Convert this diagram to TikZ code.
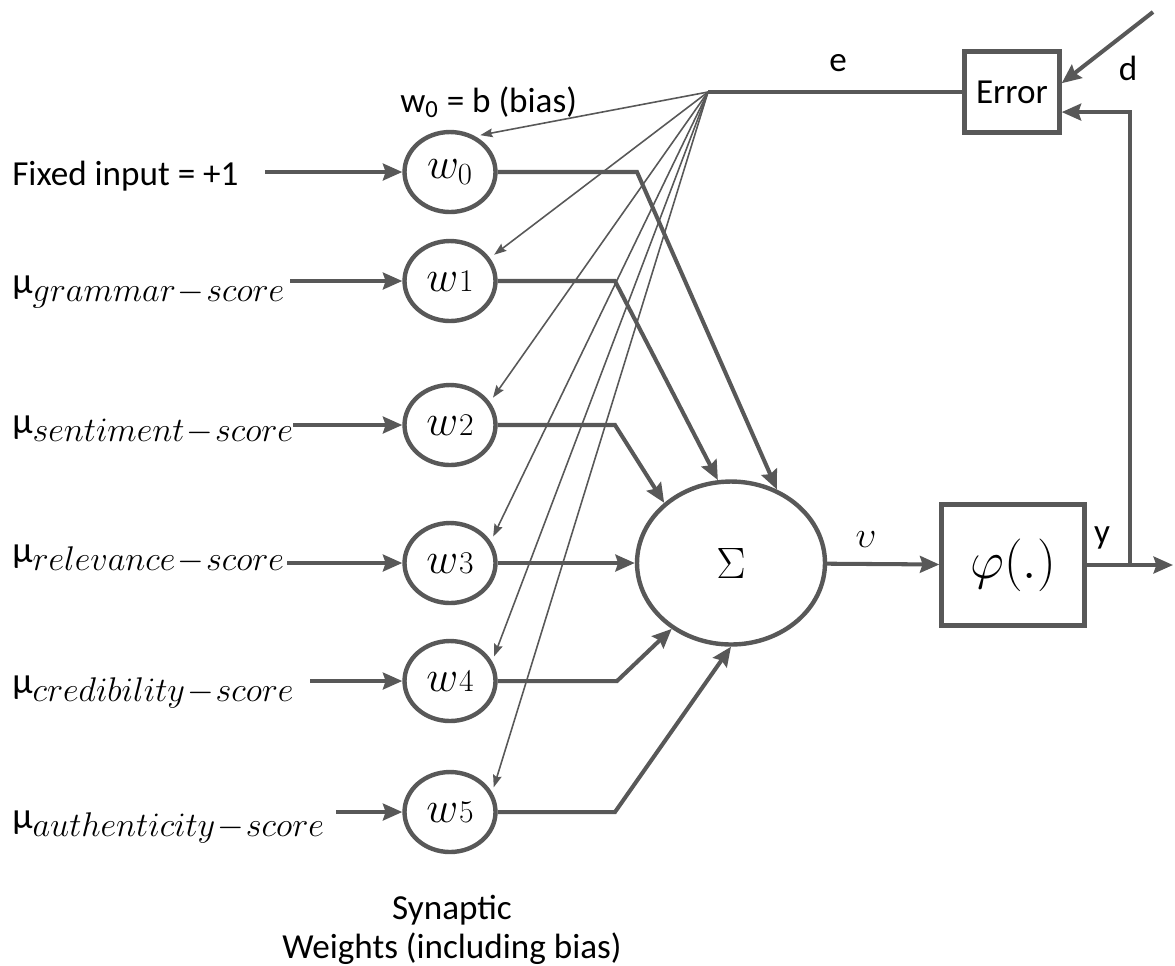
\RequirePackage{fix-cm}
\documentclass[tikz,border=0pt]{standalone}
\usepackage[no-math]{fontspec}
\setmainfont{Carlito}
\usepackage{tikz}
\usetikzlibrary{positioning,shapes,arrows.meta}
\pgfdeclarelayer{bg}
\pgfsetlayers{bg,main}
\definecolor{wiregray}{RGB}{88,88,88}

\newcommand{\mulbl}[1]{{\fontsize{21}{24}\selectfont μ}\raisebox{-5pt}{\fontsize{19.5}{23}\selectfont$#1\!-\!score$}}
\newcommand{\wlbl}[1]{$w$\kern0.5pt{\fontsize{18}{20}\selectfont$\mathrm{#1}$}}

\begin{document}
\begin{tikzpicture}[x=0.02cm, y=-0.02cm,
weight/.style={ellipse, draw=wiregray, line width=2.5pt, minimum width=1.82cm, minimum height=1.6cm, inner sep=0pt, font=\fontsize{25}{28}\selectfont},
summer/.style={ellipse, draw=wiregray, line width=2.5pt, minimum width=3.76cm, minimum height=3.26cm, inner sep=0pt, font=\fontsize{25}{28}\selectfont},
block/.style={rectangle, draw=wiregray, line width=2.5pt, inner sep=0pt},
wire/.style={draw=wiregray, line width=2.3pt, -{Stealth[length=11pt, width=9.5pt, inset=1.5pt]}},
link/.style={draw=wiregray, line width=2.3pt},
feed/.style={draw=wiregray, line width=0.9pt, shorten >=3pt, -{Stealth[length=7pt, width=5pt, inset=1pt]}},
lbl/.style={inner sep=0pt, font=\fontsize{20}{23}\selectfont},
]
\useasboundingbox (0,0) rectangle (1175,965);

% weights and summing junction
\node[weight] (w0) at (450,172) {$w_0$};
\node[weight] (w1) at (450,281) {\wlbl{1}};
\node[weight] (w2) at (450,425) {\wlbl{2}};
\node[weight] (w3) at (450,563) {\wlbl{3}};
\node[weight] (w4) at (450,681) {\wlbl{4}};
\node[weight] (w5) at (450,812) {\wlbl{5}};

\node[summer] (sig) at (731,563) {$\Sigma$};
\node[block, minimum width=2.86cm, minimum height=2.42cm, font=\fontsize{30}{34}\selectfont] (phi) at (1013,565) {$\varphi(.)$};
\node[block, minimum width=1.9cm, minimum height=1.62cm, font=\fontsize{20}{23}\selectfont] (err) at (1012,92) {Error};

% input labels
\node[lbl, anchor=base west] (in0) at (12,185) {Fixed input = +1};
\node[lbl, anchor=base west] (in1) at (12,293) {\mulbl{grammar}};
\node[lbl, anchor=base west] (in2) at (12,433) {\mulbl{sentiment}};
\node[lbl, anchor=base west] (in3) at (12,562) {\mulbl{relevance}};
\node[lbl, anchor=base west] (in4) at (12,693) {\mulbl{credibility}};
\node[lbl, anchor=base west] (in5) at (12,828) {\mulbl{authenticity}};

\node[lbl, anchor=base west] (biaslbl) at (400,112) {w\textsubscript{0} = b (bias)};
\node[lbl] (elbl) at (838,63) {e};
\node[lbl] (dlbl) at (1128,68) {d};
\node[lbl] (ylbl) at (1102,538) {y};
\node[inner sep=0pt, font=\fontsize{21}{24}\selectfont] (vlbl) at (866,540) {$\upsilon$};
\node[lbl, anchor=base] (syn1) at (452,919) {Synaptic};
\node[lbl, anchor=base] (syn2) at (452,958) {Weights (including bias)};

% free ends and bends
\coordinate (s0) at (265,172);
\coordinate (s1) at (290,281);
\coordinate (s2) at (293,425);
\coordinate (s3) at (287,563);
\coordinate (s4) at (310,681);
\coordinate (s5) at (336,812);
\coordinate (b0) at (637,172);
\coordinate (b1) at (615,281);
\coordinate (b2) at (615,425);
\coordinate (b4) at (617,681);
\coordinate (b5) at (615,812);
\coordinate (fan) at (708,92);
\coordinate (dsrc) at (1153,12);
\coordinate (fb) at (1130,565);
\coordinate (out) at (1173,565);

% error fed back to the weights
\begin{pgfonlayer}{bg}
\draw[feed] (fan) -- (w0.55);
\draw[feed] (fan) -- (w1.30);
\draw[feed] (fan) -- (w2.30);
\draw[feed] (fan) -- (w3.28);
\draw[feed] (fan) -- (w4.25);
\draw[feed] (fan) -- (w5.25);
\end{pgfonlayer}

\draw[wire] (s0) -- (w0);
\draw[wire] (s1) -- (w1);
\draw[wire] (s2) -- (w2);
\draw[wire] (s3) -- (w3);
\draw[wire] (s4) -- (w4);
\draw[wire] (s5) -- (w5);

\draw[wire] (w0) -- (b0) -- (sig.58);
\draw[wire] (w1) -- (b1) -- (sig.99);
\draw[wire] (w2) -- (b2) -- (sig.138);
\draw[wire] (w3) -- (sig);
\draw[wire] (w4) -- (b4) -- (sig.228);
\draw[wire] (w5) -- (b5) -- (sig.270);

\draw[wire] (sig) -- (phi);
\draw[wire] (phi) -- (out);
\draw[wire] (fb) |- (err.338);
\draw[wire] (dsrc) -- (err.10);
\draw[link] (err) -- (fan);
\end{tikzpicture}
\end{document}
